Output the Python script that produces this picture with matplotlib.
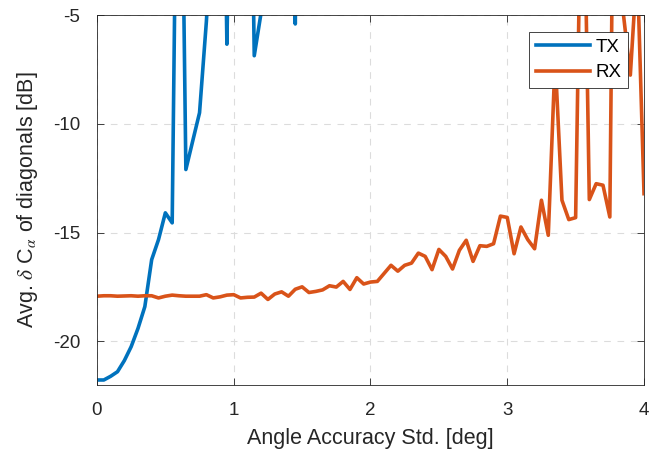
import numpy as np
import matplotlib
matplotlib.use('Agg')
import matplotlib.pyplot as plt

plt.rcParams['font.family'] = ['Liberation Sans', 'DejaVu Sans']
plt.rcParams['mathtext.fontset'] = 'stix'
plt.rcParams['axes.unicode_minus'] = False

std_deg = np.arange(81) * 0.05

# TX values, points above -5 dB leave the visible window
tx = [-21.77, -21.77, -21.60, -21.39, -20.88, -20.24, -19.40, -18.40, -16.24, -15.32,
      -14.09, -14.55, 13.0, -12.10, -10.79, -9.49, -5.3, 0.0, 15.0, -6.34,
      12.0, 20.0, 15.0, -6.87, -4.9, 10.0, 14.0, 18.0, 15.0, -5.41,
      15.0, 12.0, 16.0, 20.0, 14.0, 18.0, 22.0, 17.0, 20.0, 15.0,
      19.0, 23.0, 18.0, 21.0, 16.0, 20.0, 24.0, 19.0, 22.0, 17.0,
      21.0, 25.0, 20.0, 23.0, 18.0, 22.0, 26.0, 21.0, 24.0, 19.0,
      23.0, 27.0, 22.0, 25.0, 20.0, 24.0, 28.0, 23.0, 26.0, 21.0,
      25.0, 29.0, 24.0, 27.0, 22.0, 26.0, 30.0, 25.0, 28.0, 23.0,
      27.0]

rx = [-17.92, -17.90, -17.90, -17.92, -17.91, -17.90, -17.92, -17.90, -17.90, -18.00,
      -17.92, -17.87, -17.90, -17.92, -17.92, -17.92, -17.85, -18.00, -17.95, -17.87,
      -17.85, -18.00, -17.97, -17.96, -17.78, -18.07, -17.82, -17.72, -17.92, -17.60,
      -17.49, -17.75, -17.70, -17.63, -17.44, -17.50, -17.24, -17.61, -17.07, -17.36,
      -17.27, -17.24, -16.87, -16.50, -16.77, -16.50, -16.40, -15.94, -16.09, -16.70,
      -15.77, -16.09, -16.67, -15.81, -15.35, -16.32, -15.60, -15.63, -15.51, -14.24,
      -14.30, -15.97, -14.74, -15.32, -15.74, -13.51, -15.12, -7.0, -13.51, -14.40,
      -14.31, 5.5, -13.48, -12.75, -12.82, -14.28, 17.7, -5.0, -7.76, -2.65,
      -13.21]

fig = plt.figure(figsize=(6.61, 4.58), dpi=100)
ax = fig.add_axes([0.1467, 0.1594, 0.8276, 0.8078])

ax.plot(std_deg, tx, color='#0072BD', lw=2.6, label='TX')
ax.plot(std_deg, rx, color='#D95319', lw=2.6, label='RX')

ax.set_xlim(0, 4)
ax.set_ylim(-22, -5)
ax.set_xticks([0, 1, 2, 3, 4])
ax.set_yticks([-20, -15, -10, -5])
ax.tick_params(direction='in', length=5, width=0.6, labelsize=13.5, colors='#262626',
               top=True, right=True)
ax.tick_params(axis='x', pad=12)
ax.tick_params(axis='y', pad=12)
for s in ax.spines.values():
    s.set_color('#262626')
    s.set_linewidth(0.6)
ax.grid(True, ls=(0, (6, 6)), color='#dcdcdc', lw=0.8)

ax.set_xlabel('Angle Accuracy Std. [deg]', fontsize=15.5, color='#262626', labelpad=7)
ax.set_ylabel(r'Avg. $\delta$ C$_{\alpha}$ of diagonals [dB]', fontsize=15.5,
              color='#262626', labelpad=9)

leg = ax.legend(loc='upper right', bbox_to_anchor=(0.971, 0.954), fontsize=13.5,
                fancybox=False, framealpha=1, edgecolor='#262626', handlelength=2.9,
                borderaxespad=0, borderpad=0.35, labelspacing=0.45, handletextpad=0.3)
leg.get_frame().set_linewidth(0.6)

fig.savefig('out.png', dpi=100)
